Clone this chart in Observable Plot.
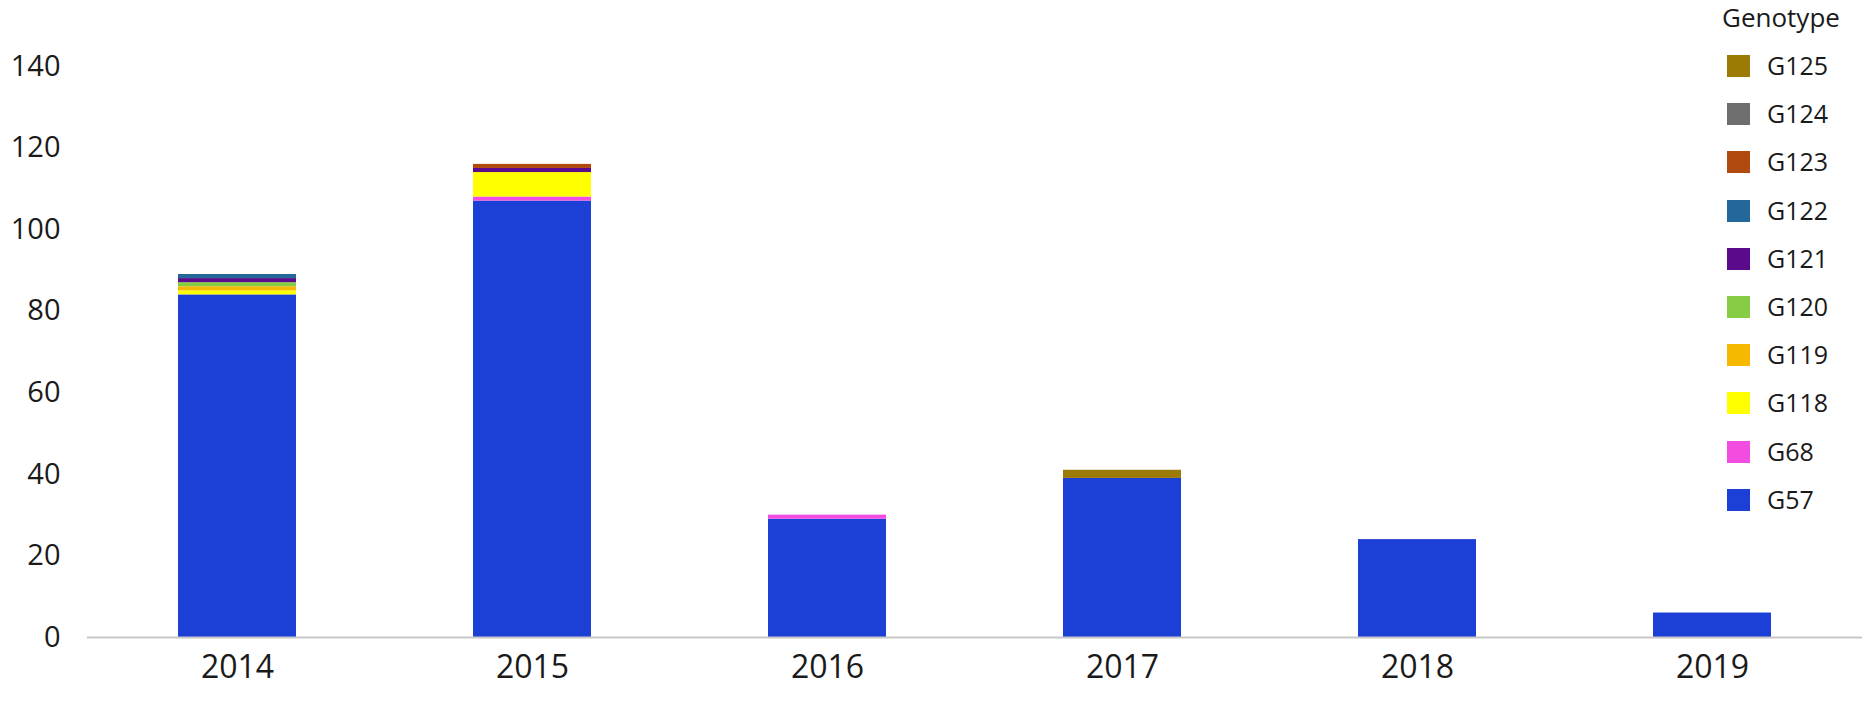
<!DOCTYPE html>
<html>
<head>
<meta charset="utf-8">
<script src="https://cdn.jsdelivr.net/npm/d3@7"></script>
<script src="https://cdn.jsdelivr.net/npm/@observablehq/plot@0.6"></script>
<style>
  html, body { margin: 0; padding: 0; background: #fff; }
  #wrap { position: relative; width: 1868px; height: 705px; font-family: "Open Sans", sans-serif; color: #1a1a1a; }
  #legend { position: absolute; left: 1722px; top: 0; width: 146px; height: 530px; }
  #legend .title { position: absolute; left: 0; top: -1px; font-size: 26px; line-height: 36px; white-space: nowrap; }
  #legend .sw { position: absolute; left: 5px; width: 23px; height: 22px; }
  #legend .lb { position: absolute; left: 45px; font-size: 25px; line-height: 22px; white-space: nowrap; }
</style>
</head>
<body>
<div id="wrap"></div>
<script>
const years = ["2014", "2015", "2016", "2017", "2018", "2019"];
const genotypes = ["G57", "G68", "G118", "G119", "G120", "G121", "G122", "G123", "G124", "G125"];
const genotypeColors = ["#1c3fd6", "#f24de0", "#ffff00", "#f7b800", "#86cc44", "#5b0a8c", "#24679b", "#b04a0e", "#6e6e6e", "#9b7a06"];
const yTicks = [0, 20, 40, 60, 80, 100, 120, 140];

// counts per year (2014..2019)
const g57  = [84, 107, 29, 39, 24, 6];
const g68  = [0, 1, 1, 0, 0, 0];
const g118 = [1, 6, 0, 0, 0, 0];
const g119 = [1, 0, 0, 0, 0, 0];
const g120 = [1, 0, 0, 0, 0, 0];
const g121 = [1, 1, 0, 0, 0, 0];
const g122 = [1, 0, 0, 0, 0, 0];
const g123 = [0, 1, 0, 0, 0, 0];
const g124 = [0, 0, 0, 0, 0, 0];
const g125 = [0, 0, 0, 2, 0, 0];

const series = [g57, g68, g118, g119, g120, g121, g122, g123, g124, g125];
const rows = [];
genotypes.forEach((g, gi) => {
  years.forEach((y, yi) => {
    const v = series[gi][yi];
    if (v > 0) rows.push({year: y, genotype: g, count: v});
  });
});

const chart = Plot.plot({
  width: 1868,
  height: 705,
  marginLeft: 87,
  marginRight: 6,
  marginTop: 66,
  marginBottom: 68,
  style: {fontFamily: "Open Sans, sans-serif", color: "#1a1a1a", background: "#fff"},
  x: {domain: years, paddingInner: 0.6, paddingOuter: 0.3, label: null},
  y: {domain: [0, 140], label: null},
  color: {domain: genotypes, range: genotypeColors},
  marks: [
    Plot.barY(rows, Plot.stackY({
      x: "year", y: "count", fill: "genotype", order: genotypes
    })),
    Plot.ruleY([0], {stroke: "#c8c8c8", strokeWidth: 2}),
    Plot.axisY({ticks: yTicks, tickSize: 0, tickPadding: 27, fontSize: 29, label: null}),
    Plot.axisX({tickSize: 0, tickPadding: 18, fontSize: 32, label: null})
  ]
});

const wrap = document.getElementById("wrap");
wrap.appendChild(chart);

// legend (top: G125 ... bottom: G57)
const legend = document.createElement("div");
legend.id = "legend";
const title = document.createElement("div");
title.className = "title";
title.textContent = "Genotype";
legend.appendChild(title);
const order = genotypes.slice().reverse();
order.forEach((g, i) => {
  const top = 55 + i * 48.2;
  const sw = document.createElement("div");
  sw.className = "sw";
  sw.style.top = top + "px";
  sw.style.background = genotypeColors[genotypes.indexOf(g)];
  legend.appendChild(sw);
  const lb = document.createElement("div");
  lb.className = "lb";
  lb.style.top = (top - 1) + "px";
  lb.textContent = g;
  legend.appendChild(lb);
});
wrap.appendChild(legend);
</script>
</body>
</html>
